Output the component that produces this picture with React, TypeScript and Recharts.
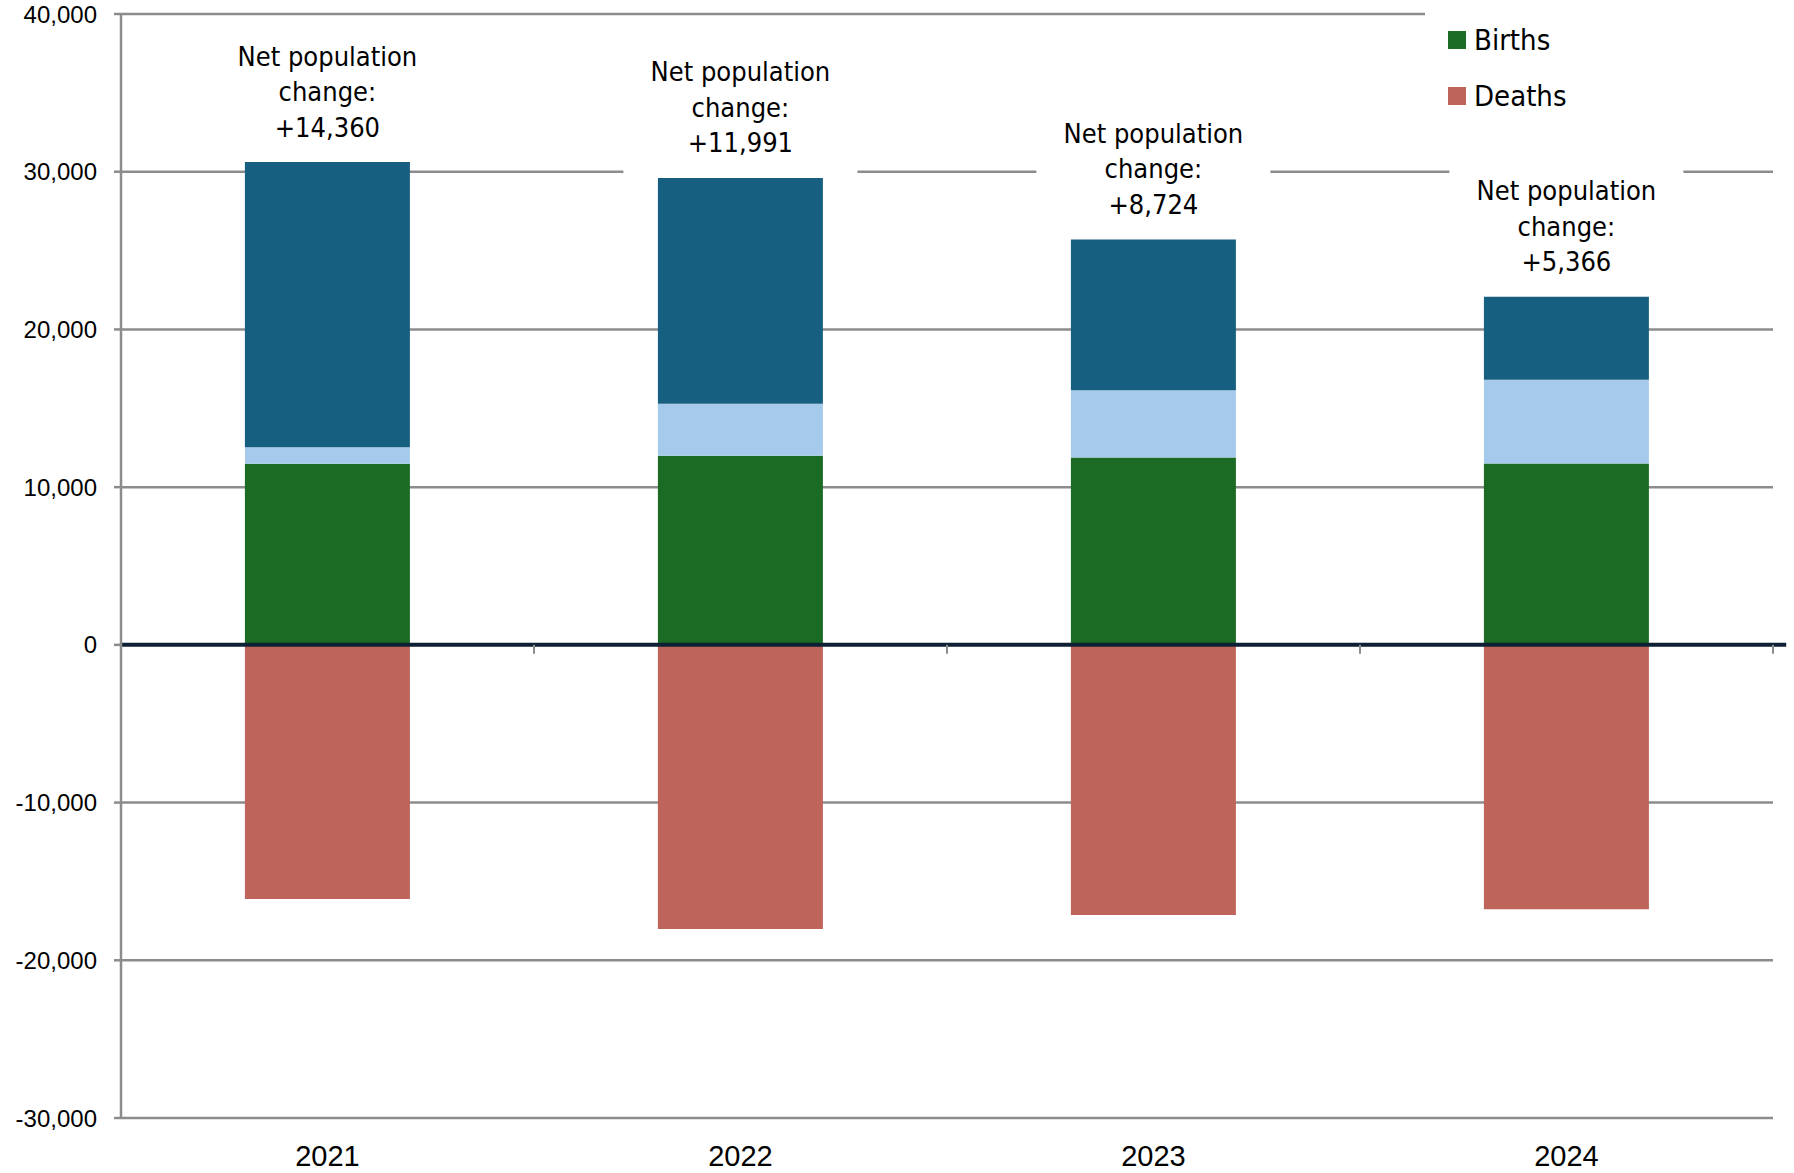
import React from 'react';
import {
  BarChart, Bar, XAxis, YAxis, CartesianGrid, ReferenceLine, Legend, LabelList,
} from 'recharts';

const years = ['2021', '2022', '2023', '2024'];
const births = [11477, 11985, 11877, 11497];
const internationalMigration = [1059, 3297, 4274, 5307];
const domesticMigration = [18073, 14318, 9550, 5263];
const deaths = [-16107, -18009, -17121, -16760];
const netChange = [14360, 11991, 8724, 5366];
const yTicks = [-30000, -20000, -10000, 0, 10000, 20000, 30000, 40000];
const boundaryTicks = [1, 2, 3, 4];

const COLORS = {
  births: '#1B6B24',
  international: '#A6CAEC',
  domestic: '#175F80',
  deaths: '#BE645A',
};

const legendOrder = [
  { name: 'Domestic migration', color: COLORS.domestic },
  { name: 'International migration', color: COLORS.international },
  { name: 'Births', color: COLORS.births },
  { name: 'Deaths', color: COLORS.deaths },
];

const data = years.map((year, i) => ({
  year,
  slot: i + 0.5,
  births: births[i],
  international: internationalMigration[i],
  domestic: domesticMigration[i],
  deaths: deaths[i],
}));

const NARROW = "'Liberation Sans Narrow', 'DejaVu Sans Condensed', 'Roboto', sans-serif";
const REG = "'Liberation Sans', Arial, sans-serif";

const fmt = (v: number) => v.toLocaleString('en-US');

const NetLabel = (props: any) => {
  const { x, y, width, index } = props;
  const cx = x + width / 2;
  const last = y - 35;
  const lines = ['Net population', 'change:', '+' + fmt(netChange[index])];
  const lh = 35.5;
  return (
    <g>
      <rect x={cx - 117} y={last - 2 * lh - 24} width={234} height={3 * lh + 22} fill="#fff" />
      {lines.map((t, k) => (
        <text
          key={k}
          x={cx}
          y={last - (2 - k) * lh}
          dy="0.35em"
          textAnchor="middle"
          fontFamily={NARROW}
          fontSize={27}
          fill="#000"
        >
          {t}
        </text>
      ))}
    </g>
  );
};

const LegendContent = () => (
  <div style={{ position: 'relative', width: 369, height: 260, background: '#fff' }}>
    {legendOrder.map((it, i) => (
      <div
        key={it.name}
        style={{
          position: 'absolute',
          left: 23,
          top: 60 + i * 56 - 18,
          height: 36,
          display: 'flex',
          alignItems: 'center',
          whiteSpace: 'nowrap',
        }}
      >
        <span style={{ display: 'inline-block', width: 18, height: 18, background: it.color, marginRight: 8 }} />
        <span style={{ fontFamily: NARROW, fontSize: 29, color: '#000' }}>{it.name}</span>
      </div>
    ))}
  </div>
);

export default function App() {
  return (
    <div style={{ position: 'absolute', left: 0, top: 0, width: 1794, height: 1173, background: '#fff', overflow: 'hidden' }}>
      <BarChart
        width={1794}
        height={1173}
        data={data}
        stackOffset="sign"
        barCategoryGap="30%"
        margin={{ top: 14, right: 21, bottom: 0, left: 0 }}
      >
        <CartesianGrid vertical={false} stroke="#8C8C8C" strokeWidth={2.5} />
        <XAxis
          dataKey="year"
          height={55}
          axisLine={false}
          tickLine={false}
          tickSize={0}
          tickMargin={27}
          tick={{ fontFamily: REG, fontSize: 29, fill: '#000' }}
        />
        <XAxis
          xAxisId="n"
          dataKey="slot"
          type="number"
          scale="linear"
          domain={[0, 4]}
          allowDataOverflow
          hide
          height={0}
        />
        <YAxis
          width={121}
          domain={[-30000, 40000]}
          ticks={yTicks}
          interval={0}
          tickFormatter={fmt}
          axisLine={{ stroke: '#8C8C8C', strokeWidth: 2.5 }}
          tickLine={{ stroke: '#8C8C8C', strokeWidth: 2.5 }}
          tickSize={7}
          tickMargin={17}
          tick={{ fontFamily: REG, fontSize: 24, fill: '#000' }}
        />
        <Legend
          layout="vertical"
          align="center"
          verticalAlign="middle"
          content={<LegendContent />}
          wrapperStyle={{ position: 'absolute', left: 1425, top: -132, width: 369, height: 260 }}
        />
        <Bar dataKey="births" name="Births" stackId="a" fill={COLORS.births} isAnimationActive={false} />
        <Bar dataKey="international" name="International migration" stackId="a" fill={COLORS.international} isAnimationActive={false} />
        <Bar dataKey="domestic" name="Domestic migration" stackId="a" fill={COLORS.domestic} isAnimationActive={false}>
          <LabelList dataKey="domestic" content={<NetLabel />} />
        </Bar>
        <Bar dataKey="deaths" name="Deaths" stackId="a" fill={COLORS.deaths} isAnimationActive={false} />
        <ReferenceLine
          xAxisId="n"
          segment={[{ x: 0, y: 0 }, { x: 4.032, y: 0 }]}
          stroke="#0E2033"
          strokeWidth={4}
          ifOverflow="visible"
        />
        {boundaryTicks.map((b) => (
          <ReferenceLine
            key={b}
            xAxisId="n"
            segment={[{ x: b, y: 0 }, { x: b, y: -560 }]}
            stroke="#8C8C8C"
            strokeWidth={2}
            ifOverflow="visible"
          />
        ))}
      </BarChart>
    </div>
  );
}
